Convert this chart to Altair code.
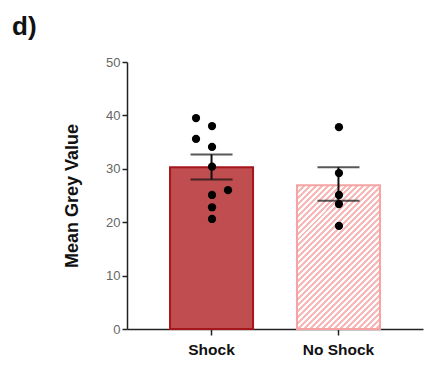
import altair as alt
import pandas as pd

# ---- data ----
groups = ["Shock", "No Shock"]
means = [30.3, 26.9]
err_low = [28.0, 24.0]
err_high = [32.7, 30.3]

shock_values = [39.5, 38.0, 35.6, 34.1, 30.4, 26.0, 25.1, 22.8, 20.6]
shock_slots = [-1, 0, -1, 0, 0, 1, 0, 0, 0]
noshock_values = [37.8, 29.2, 25.1, 23.4, 19.3]
noshock_slots = [0, 0, 0, 0, 0]

bars = pd.DataFrame({"group": groups, "mean": means, "lo": err_low, "hi": err_high})
points = pd.DataFrame({
    "group": ["Shock"] * len(shock_values) + ["No Shock"] * len(noshock_values),
    "value": shock_values + noshock_values,
    "slot": shock_slots + noshock_slots,
})

# ---- styling ----
SHOCK_FILL = "#c04d4f"
SHOCK_STROKE = "#a5161b"
PINK = "#f8b8b8"
PINK_STROKE = "#f6a3a3"
P_IN, P_OUT = 0.346, 0.339

# diagonal hatch for "No Shock" bar, built as a hard-stop linear gradient
n_stripes = 38
stops = []
for i in range(n_stripes):
    a = i / n_stripes
    b = (i + 0.5) / n_stripes
    c = (i + 1) / n_stripes
    stops += [
        {"offset": a, "color": PINK},
        {"offset": b, "color": PINK},
        {"offset": b, "color": "#ffffff"},
        {"offset": c, "color": "#ffffff"},
    ]
hatch = {"gradient": "linear", "x1": 0, "y1": 0, "x2": 0.684, "y2": 1.183, "stops": stops}

x_enc = alt.X(
    "group:N",
    sort=groups,
    scale=alt.Scale(paddingInner=P_IN, paddingOuter=P_OUT),
    axis=alt.Axis(
        title=None, labelAngle=0, labelFont="Liberation Sans", labelFontWeight="bold",
        labelFontSize=15.5, labelColor="#111111", labelPadding=7,
        domainColor="#222222", domainWidth=1.5, tickColor="#222222", tickWidth=1.5,
        tickSize=6,
    ),
)
y_scale = alt.Scale(domain=[0, 50], nice=False)
y_axis = alt.Axis(
    title="Mean Grey Value", values=[0, 10, 20, 30, 40, 50], grid=False,
    titleFont="Liberation Sans", titleFontWeight="bold", titleFontSize=18,
    titleColor="#111111", titlePadding=24,
    labelFont="Liberation Sans", labelFontSize=13, labelColor="#666666",
    labelPadding=2, domainColor="#222222", domainWidth=1.5, tickColor="#222222",
    tickWidth=1.5, tickSize=5,
)

base = alt.Chart(bars).encode(x=x_enc)

bar_shock = base.transform_filter(alt.datum.group == "Shock").mark_bar(
    fill=SHOCK_FILL, stroke=SHOCK_STROKE, strokeWidth=2
).encode(y=alt.Y("mean:Q", scale=y_scale, axis=y_axis))

bar_noshock = base.transform_filter(alt.datum.group == "No Shock").mark_bar(
    fill=hatch, stroke=PINK_STROKE, strokeWidth=2
).encode(y=alt.Y("mean:Q", scale=y_scale, axis=y_axis))

err_line = base.mark_rule(color="#111111", strokeWidth=2).encode(
    y=alt.Y("lo:Q", scale=y_scale), y2="hi:Q"
)
cap_lo = base.mark_tick(color="#111111", thickness=2, size=42).encode(
    y=alt.Y("lo:Q", scale=y_scale)
)
cap_hi = base.mark_tick(color="#111111", thickness=2, size=42).encode(
    y=alt.Y("hi:Q", scale=y_scale)
)

main = alt.layer(bar_shock, bar_noshock, err_line, cap_lo, cap_hi)

# dots: same band layout, shifted within the band by slot (bandwidth ~83px, centre ~41.5px)
dots = alt.Chart(points).mark_circle(color="#000000", opacity=1, size=68).encode(
    x=alt.X("group:N", sort=groups, axis=None,
            scale=alt.Scale(paddingInner=P_IN, paddingOuter=P_OUT)),
    xOffset=alt.XOffset("slot:Q", scale=alt.Scale(domain=[-1, 1], range=[26, 58])),
    y=alt.Y("value:Q", scale=y_scale),
)

chart = alt.layer(main, dots).resolve_scale(
    x="independent", xOffset="independent"
).properties(
    width=296,
    height=267,
    autosize=alt.AutoSizeParams(type="none"),
    padding={"left": 127, "top": 62, "right": 7, "bottom": 43},
    background="white",
    title=alt.TitleParams(
        "d)", anchor="start", frame="group", font="Liberation Sans", fontSize=26,
        fontWeight="bold", color="#111111", dx=-115, offset=16,
    ),
).configure_view(stroke=None)

chart.save("out.html", embed_options={"renderer": "svg", "actions": False})
